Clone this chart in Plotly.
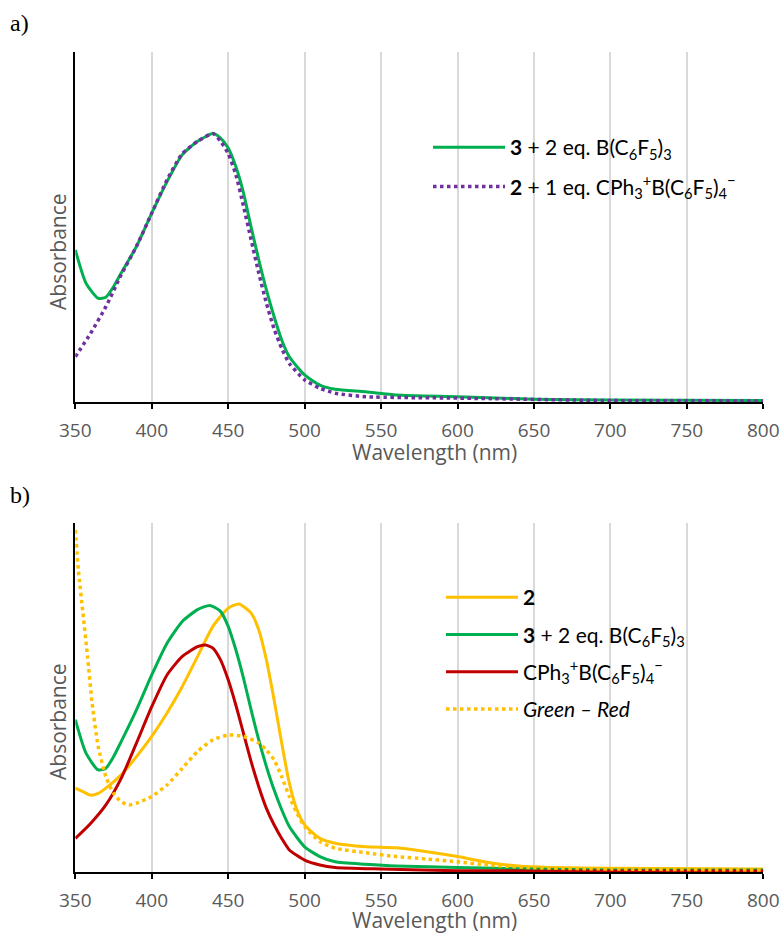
import plotly.graph_objects as go

# ---------------- data (arbitrary absorbance units) ----------------
# Panel a)
wl_a_green = [350, 357, 365, 370, 375, 380, 390, 400, 410, 420, 430, 440, 445, 450, 455, 460,
              465, 470, 475, 480, 485, 490, 500, 510, 520, 540, 560, 600, 650, 700, 800]
abs_a_green = [0.435, 0.34, 0.297, 0.30, 0.33, 0.369, 0.445, 0.54, 0.63, 0.707, 0.745, 0.767,
               0.754, 0.726, 0.673, 0.598, 0.50, 0.407, 0.321, 0.245, 0.178, 0.13, 0.078, 0.049,
               0.037, 0.030, 0.021, 0.016, 0.009, 0.0065, 0.005]

wl_a_purple = [350, 360, 370, 380, 390, 400, 410, 420, 430, 440, 445, 450, 455, 460, 465, 470,
               475, 480, 485, 490, 500, 510, 520, 540, 600, 700, 800]
abs_a_purple = [0.13, 0.197, 0.273, 0.364, 0.445, 0.54, 0.635, 0.71, 0.745, 0.767, 0.745, 0.71,
                0.65, 0.56, 0.464, 0.369, 0.283, 0.21, 0.154, 0.111, 0.064, 0.04, 0.026, 0.016,
                0.012, 0.005, 0.004]

# Panel b)
wl_b_yellow = [350, 355, 360, 365, 370, 380, 390, 400, 410, 420, 430, 440, 450, 457, 465, 470,
               475, 480, 485, 490, 495, 500, 510, 520, 540, 560, 580, 600, 620, 640, 660, 700, 800]
abs_b_yellow = [0.241, 0.231, 0.221, 0.226, 0.241, 0.279, 0.331, 0.389, 0.456, 0.532, 0.618,
                0.704, 0.756, 0.768, 0.742, 0.694, 0.608, 0.494, 0.37, 0.255, 0.179, 0.136,
                0.097, 0.083, 0.073, 0.07, 0.059, 0.045, 0.028, 0.018, 0.014, 0.0115, 0.0095]

wl_b_green = [350, 357, 365, 370, 375, 380, 390, 400, 410, 420, 430, 438, 445, 450, 455, 460,
              465, 470, 475, 480, 485, 490, 500, 510, 520, 540, 560, 600, 650, 700, 800]
abs_b_green = [0.437, 0.341, 0.293, 0.298, 0.331, 0.374, 0.465, 0.565, 0.656, 0.718, 0.752,
               0.764, 0.747, 0.704, 0.637, 0.556, 0.465, 0.379, 0.303, 0.236, 0.179, 0.131,
               0.073, 0.045, 0.030, 0.023, 0.018, 0.014, 0.0095, 0.0066, 0.0066]

wl_b_red = [350, 360, 370, 380, 390, 400, 410, 420, 430, 435, 440, 445, 450, 455, 460, 465,
            470, 475, 480, 485, 490, 500, 510, 520, 550, 600, 700, 800]
abs_b_red = [0.097, 0.14, 0.193, 0.269, 0.37, 0.474, 0.565, 0.618, 0.646, 0.651, 0.642, 0.608,
             0.551, 0.479, 0.398, 0.317, 0.245, 0.183, 0.136, 0.097, 0.064, 0.035, 0.021,
             0.014, 0.0095, 0.0046, 0.004, 0.004]

wl_b_diff = [350, 352, 355, 358, 361, 365, 370, 375, 380, 385, 390, 400, 410, 420, 430, 440,
             450, 460, 470, 475, 480, 485, 490, 495, 500, 510, 520, 540, 560, 580, 600, 620,
             650, 700, 800]
abs_b_diff = [0.98, 0.866, 0.742, 0.618, 0.484, 0.36, 0.274, 0.226, 0.202, 0.193, 0.198, 0.217,
              0.25, 0.298, 0.346, 0.379, 0.393, 0.389, 0.37, 0.35, 0.322, 0.274, 0.217, 0.169,
              0.131, 0.088, 0.069, 0.056, 0.045, 0.038, 0.030, 0.021, 0.013, 0.0095, 0.0066]

x_ticks = [350, 400, 450, 500, 550, 600, 650, 700, 750, 800]

name_a_green = "<b>3</b> + 2 eq. B(C<sub>6</sub>F<sub>5</sub>)<sub>3</sub>"
name_a_purple = "<b>2</b> + 1 eq. CPh<sub>3</sub><sup>+</sup>B(C<sub>6</sub>F<sub>5</sub>)<sub>4</sub><sup>\u2212</sup>"
name_b_yellow = "<b>2</b>"
name_b_green = "<b>3</b> + 2 eq. B(C<sub>6</sub>F<sub>5</sub>)<sub>3</sub>"
name_b_red = "CPh<sub>3</sub><sup>+</sup>B(C<sub>6</sub>F<sub>5</sub>)<sub>4</sub><sup>\u2212</sup>"
name_b_diff = "<i>Green \u2013 Red</i>"

GREEN = "#00B050"
PURPLE = "#7030A0"
YELLOW = "#FFC000"
RED = "#C00000"
GRAY = "#595959"

W, H = 784, 935

def px_x(p):
    return p / W

def px_y(p):
    return 1 - p / H

fig = go.Figure()

fig.add_trace(go.Scatter(x=wl_a_green, y=abs_a_green, mode="lines", name=name_a_green,
                         line=dict(color=GREEN, width=3, shape="spline", smoothing=0.6),
                         xaxis="x", yaxis="y", legend="legend", legendgroup="a1"))
fig.add_trace(go.Scatter(x=wl_a_purple, y=abs_a_purple, mode="lines", name=name_a_purple,
                         line=dict(color=PURPLE, width=3.5, dash="dot", shape="spline", smoothing=0.6),
                         xaxis="x", yaxis="y", legend="legend", legendgroup="a2"))

fig.add_trace(go.Scatter(x=wl_b_yellow, y=abs_b_yellow, mode="lines", name=name_b_yellow,
                         line=dict(color=YELLOW, width=3, shape="spline", smoothing=0.6),
                         xaxis="x2", yaxis="y2", legend="legend2", legendgroup="b1"))
fig.add_trace(go.Scatter(x=wl_b_green, y=abs_b_green, mode="lines", name=name_b_green,
                         line=dict(color=GREEN, width=3, shape="spline", smoothing=0.6),
                         xaxis="x2", yaxis="y2", legend="legend2", legendgroup="b2"))
fig.add_trace(go.Scatter(x=wl_b_red, y=abs_b_red, mode="lines", name=name_b_red,
                         line=dict(color=RED, width=3, shape="spline", smoothing=0.6),
                         xaxis="x2", yaxis="y2", legend="legend2", legendgroup="b3"))
fig.add_trace(go.Scatter(x=wl_b_diff, y=abs_b_diff, mode="lines", name=name_b_diff,
                         line=dict(color=YELLOW, width=3.5, dash="dot", shape="spline", smoothing=0.6),
                         xaxis="x2", yaxis="y2", legend="legend2", legendgroup="b4"))

xdom = [px_x(75.3), px_x(763.3)]
ydom_a = [px_y(402.3), px_y(52)]
ydom_b = [px_y(872.3), px_y(523)]

xaxis_common = dict(range=[350, 800], tickvals=x_ticks, showline=True, linecolor="black",
                    linewidth=2, ticks="outside", ticklen=5, tickwidth=2, tickcolor="black",
                    showgrid=True, gridcolor="#D9D9D9", gridwidth=1.5, zeroline=False,
                    tickfont=dict(family="Open Sans", size=19, color=GRAY),
                    ticklabelstandoff=5, domain=xdom, fixedrange=True, automargin=False)
yaxis_common = dict(range=[0, 1], showline=True, linecolor="black", linewidth=2,
                    showticklabels=False, ticks="", showgrid=False, zeroline=False,
                    fixedrange=True, automargin=False)

legend_common = dict(font=dict(family="Lato", size=21, color="black"), bgcolor="rgba(0,0,0,0)",
                     borderwidth=0, xanchor="left", yanchor="top", itemwidth=72,
                     traceorder="grouped")

fig.update_layout(
    width=W, height=H,
    margin=dict(l=0, r=0, t=0, b=0, autoexpand=False),
    paper_bgcolor="white", plot_bgcolor="white",
    xaxis=dict(**xaxis_common, anchor="y"),
    yaxis=dict(**yaxis_common, domain=ydom_a, anchor="x"),
    xaxis2=dict(**xaxis_common, anchor="y2"),
    yaxis2=dict(**yaxis_common, domain=ydom_b, anchor="x2"),
    legend=dict(**legend_common, x=px_x(428), y=px_y(127), tracegroupgap=9),
    legend2=dict(**legend_common, x=px_x(441), y=px_y(577), tracegroupgap=7),
    shapes=[
        dict(type="rect", xref="paper", yref="paper", layer="between",
             x0=px_x(490), x1=px_x(740), y0=px_y(209), y1=px_y(119),
             fillcolor="white", line=dict(width=0)),
        dict(type="rect", xref="paper", yref="paper", layer="between",
             x0=px_x(490), x1=px_x(740), y0=px_y(730), y1=px_y(570),
             fillcolor="white", line=dict(width=0)),
    ],
    annotations=[
        dict(text="a)", x=px_x(8), y=px_y(23), xref="paper", yref="paper", xanchor="left",
             yanchor="middle", showarrow=False,
             font=dict(family="Liberation Serif", size=24, color="black")),
        dict(text="b)", x=px_x(8), y=px_y(495), xref="paper", yref="paper", xanchor="left",
             yanchor="middle", showarrow=False,
             font=dict(family="Liberation Serif", size=24, color="black")),
        dict(text="Absorbance", x=px_x(58), y=px_y(252), xref="paper", yref="paper",
             textangle=-90, showarrow=False, xanchor="center", yanchor="middle",
             font=dict(family="Open Sans", size=21, color=GRAY)),
        dict(text="Absorbance", x=px_x(58), y=px_y(722), xref="paper", yref="paper",
             textangle=-90, showarrow=False, xanchor="center", yanchor="middle",
             font=dict(family="Open Sans", size=21, color=GRAY)),
        dict(text="Wavelength (nm)", x=px_x(434), y=px_y(452), xref="paper", yref="paper",
             showarrow=False, xanchor="center", yanchor="middle",
             font=dict(family="Open Sans", size=21, color=GRAY)),
        dict(text="Wavelength (nm)", x=px_x(434), y=px_y(920), xref="paper", yref="paper",
             showarrow=False, xanchor="center", yanchor="middle",
             font=dict(family="Open Sans", size=21, color=GRAY)),
    ],
)

fig.write_html("out.html", config={"displayModeBar": False},
               post_script="document.body.style.margin='0';document.body.style.overflow='hidden';")
